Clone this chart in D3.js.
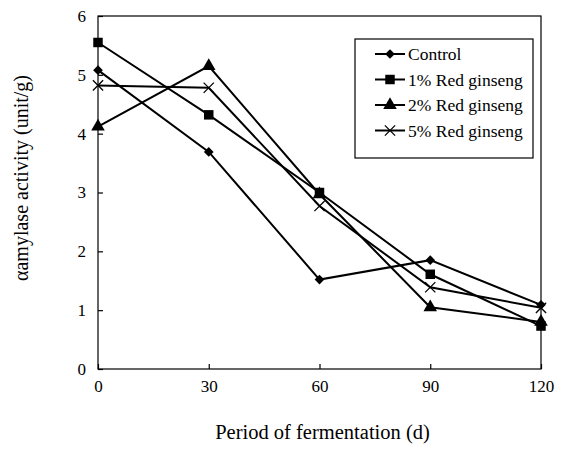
<!DOCTYPE html>
<html>
<head>
<meta charset="utf-8">
<script src="https://cdn.jsdelivr.net/npm/d3@7"></script>
<style>
body { margin: 0; background: #fff; }
text { font-family: "Liberation Serif", "Times New Roman", serif; fill: #000; }
</style>
</head>
<body>
<svg id="chart" width="564" height="449"></svg>
<script>
var days = [0, 30, 60, 90, 120];
var seriesNames = ["Control", "1% Red ginseng", "2% Red ginseng", "5% Red ginseng"];
var control = [5.08, 3.69, 1.52, 1.85, 1.09];
var ginseng1 = [5.55, 4.32, 3.0, 1.61, 0.73];
var ginseng2 = [4.12, 5.15, 2.97, 1.05, 0.8];
var ginseng5 = [4.82, 4.78, 2.77, 1.39, 1.04];
var yTicks = [0, 1, 2, 3, 4, 5, 6];

var allSeries = [control, ginseng1, ginseng2, ginseng5];
var markers = [d3.symbolDiamond2, d3.symbolSquare, d3.symbolTriangle, d3.symbolTimes];
var markerSizes = [60, 90, 80, 70];

var svg = d3.select("#chart");
var plotLeft = 98, plotRight = 541, plotTop = 16, plotBottom = 369;

var x = d3.scaleLinear().domain([0, 120]).range([plotLeft, plotRight]);
var y = d3.scaleLinear().domain([0, 6]).range([plotBottom, plotTop]);

// frame
svg.append("rect")
	.attr("x", plotLeft).attr("y", plotTop)
	.attr("width", plotRight - plotLeft).attr("height", plotBottom - plotTop)
	.attr("fill", "none").attr("stroke", "#000").attr("stroke-width", 1.2);

// axes, ticks inside
var xAxis = svg.append("g").attr("transform", "translate(0," + plotBottom + ")")
	.call(d3.axisBottom(x).tickValues(days).tickFormat(d3.format("d"))
		.tickSizeInner(-5).tickSizeOuter(0).tickPadding(11));
var yAxis = svg.append("g").attr("transform", "translate(" + plotLeft + ",0)")
	.call(d3.axisLeft(y).tickValues(yTicks).tickFormat(d3.format("d"))
		.tickSizeInner(-5).tickSizeOuter(0).tickPadding(12));

[xAxis, yAxis].forEach(function(a) {
	a.select(".domain").remove();
	a.selectAll("line").attr("stroke", "#000").attr("stroke-width", 1.2);
	a.selectAll("text").style("font-size", "17px").attr("font-family", null);
});

// lines
var line = d3.line()
	.x(function(d, i) { return x(days[i]); })
	.y(function(d) { return y(d); });

allSeries.forEach(function(s, k) {
	svg.append("path")
		.datum(s)
		.attr("d", line)
		.attr("fill", "none")
		.attr("stroke", "#000")
		.attr("stroke-width", 2);
});

function addMarker(g, k, cx, cy) {
	var sym = d3.symbol().type(markers[k]).size(markerSizes[k]);
	var m = g.append("path")
		.attr("d", sym())
		.attr("transform", "translate(" + cx + "," + cy + ")");
	if (k === 3) {
		m.attr("fill", "none").attr("stroke", "#000").attr("stroke-width", 1.3);
	} else {
		m.attr("fill", "#000");
	}
}

allSeries.forEach(function(s, k) {
	s.forEach(function(v, i) {
		addMarker(svg, k, x(days[i]), y(v));
	});
});

// legend
var lg = svg.append("g");
lg.append("rect")
	.attr("x", 355).attr("y", 39).attr("width", 178).attr("height", 119)
	.attr("fill", "#fff").attr("stroke", "#000").attr("stroke-width", 1.2);

seriesNames.forEach(function(name, k) {
	var ly = 54 + k * 25.5;
	lg.append("line")
		.attr("x1", 375).attr("x2", 405)
		.attr("y1", ly).attr("y2", ly)
		.attr("stroke", "#000").attr("stroke-width", 2);
	addMarker(lg, k, 390, ly);
	lg.append("text")
		.attr("x", 408).attr("y", ly + 6)
		.style("font-size", "17.5px")
		.text(name);
});

// axis titles
svg.append("text")
	.attr("x", (plotLeft + plotRight) / 2 + 3).attr("y", 439)
	.attr("text-anchor", "middle")
	.style("font-size", "20.5px")
	.text("Period of fermentation (d)");

svg.append("text")
	.attr("transform", "translate(28,178) rotate(-90)")
	.attr("text-anchor", "middle")
	.style("font-size", "20px")
	.text("αamylase activity (unit/g)");
</script>
</body>
</html>
